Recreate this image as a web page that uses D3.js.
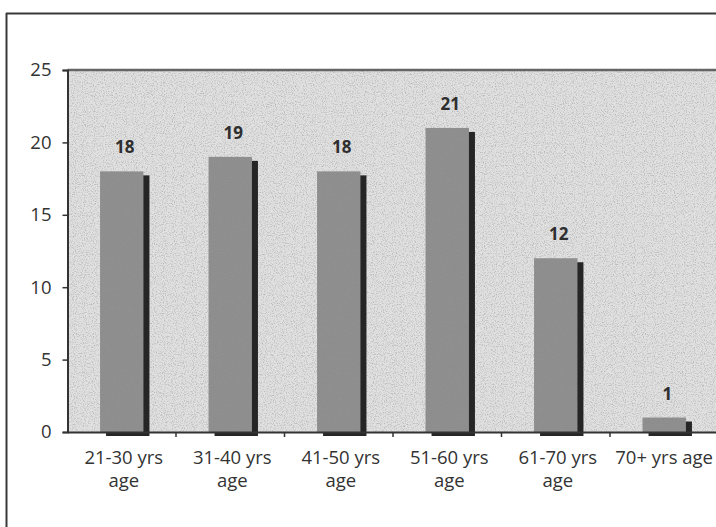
<!DOCTYPE html>
<html>
<head>
<meta charset="utf-8">
<script src="https://cdn.jsdelivr.net/npm/d3@7"></script>
<style>
  html, body { margin: 0; padding: 0; background: #fff; }
  svg { display: block; }
  text { font-family: "Open Sans", "Liberation Sans", sans-serif; }
</style>
</head>
<body>
<svg id="chart" width="716" height="527"></svg>
<script>
const categories = ["21-30 yrs age", "31-40 yrs age", "41-50 yrs age", "51-60 yrs age", "61-70 yrs age", "70+ yrs age"];
const labelLines = [["21-30 yrs", "age"], ["31-40 yrs", "age"], ["41-50 yrs", "age"], ["51-60 yrs", "age"], ["61-70 yrs", "age"], ["70+ yrs age"]];
const values = [18, 19, 18, 21, 12, 1];
const yTicks = [0, 5, 10, 15, 20, 25];

const W = 716, H = 527;
const plot = { left: 67.5, right: 718.5, top: 70, bottom: 432 };

const svg = d3.select("#chart");

const defs = svg.append("defs");
const f = defs.append("filter").attr("id", "grain").attr("x", 0).attr("y", 0).attr("width", 1).attr("height", 1);
f.append("feTurbulence").attr("type", "fractalNoise").attr("baseFrequency", 0.9).attr("numOctaves", 2).attr("seed", 3).attr("result", "n");
f.append("feColorMatrix").attr("in", "n").attr("type", "matrix")
  .attr("values", "0 0 0 0 0  0 0 0 0 0  0 0 0 0 0  0 0 0 -1.4 0.75").attr("result", "a");
f.append("feComposite").attr("in", "a").attr("in2", "SourceGraphic").attr("operator", "in");

svg.append("rect").attr("width", W).attr("height", H).attr("fill", "#fff");

// outer chart frame
svg.append("line").attr("x1", 6).attr("x2", W).attr("y1", 13.5).attr("y2", 13.5).attr("stroke", "#3a3a3a").attr("stroke-width", 2);
svg.append("line").attr("x1", 6.5).attr("x2", 6.5).attr("y1", 13).attr("y2", H).attr("stroke", "#3a3a3a").attr("stroke-width", 2);

const x = d3.scaleBand().domain(categories).range([plot.left, plot.right]).paddingInner(0.6).paddingOuter(0.3);
const xb = d3.scaleBand().domain(categories).range([plot.left, plot.right]).padding(0);
const y = d3.scaleLinear().domain([0, 25]).range([plot.bottom, plot.top]);

// plot area
svg.append("rect").attr("x", plot.left).attr("y", plot.top)
  .attr("width", plot.right - plot.left).attr("height", plot.bottom - plot.top)
  .attr("fill", "#e0e0e0");
svg.append("rect").attr("x", plot.left).attr("y", plot.top)
  .attr("width", plot.right - plot.left).attr("height", plot.bottom - plot.top)
  .attr("fill", "#ffffff").attr("filter", "url(#grain)").attr("opacity", 0.3);
svg.append("line").attr("x1", plot.left).attr("x2", plot.right).attr("y1", plot.top).attr("y2", plot.top)
  .attr("stroke", "#666").attr("stroke-width", 2.5);

// bars: shadow then face
const g = svg.append("g");
g.selectAll("rect.shadow").data(values).join("rect").attr("class", "shadow")
  .attr("x", (d, i) => x(categories[i]) + 6)
  .attr("y", d => y(d) + 4)
  .attr("width", x.bandwidth())
  .attr("height", d => y(0) - y(d))
  .attr("fill", "#262626");
g.selectAll("rect.bar").data(values).join("rect").attr("class", "bar")
  .attr("x", (d, i) => x(categories[i]))
  .attr("y", d => y(d))
  .attr("width", x.bandwidth())
  .attr("height", d => y(0) - y(d))
  .attr("fill", "#8f8f8f");
g.append("rect").attr("x", plot.left).attr("y", plot.top)
  .attr("width", plot.right - plot.left).attr("height", plot.bottom - plot.top)
  .attr("fill", "#000").attr("filter", "url(#grain)").attr("opacity", 0.05).attr("pointer-events", "none");

// data labels
svg.selectAll("text.val").data(values).join("text").attr("class", "val")
  .attr("x", (d, i) => x(categories[i]) + x.bandwidth() / 2 + 3)
  .attr("y", d => y(d) - 18)
  .attr("text-anchor", "middle")
  .attr("font-size", 17).attr("font-weight", "bold").attr("fill", "#2e2e2e")
  .text(d => d);

// y axis
const yAxis = d3.axisLeft(y).tickValues(yTicks).tickSize(5).tickPadding(11);
const ya = svg.append("g").attr("transform", `translate(${plot.left},0)`).call(yAxis);
ya.select(".domain").attr("stroke", "#333").attr("stroke-width", 2);
ya.selectAll(".tick line").attr("stroke", "#333").attr("stroke-width", 1.5);
ya.selectAll(".tick text").attr("font-size", 18.5).attr("fill", "#333").attr("font-family", "Open Sans, sans-serif");

// x axis
const xAxis = d3.axisBottom(xb).tickSize(0).tickFormat("");
const xa = svg.append("g").attr("transform", `translate(0,${plot.bottom})`).call(xAxis);
xa.select(".domain").attr("stroke", "#333").attr("stroke-width", 2);
xa.selectAll(".tick").remove();
xa.selectAll("line.sep").data(categories.slice(1)).join("line").attr("class", "sep")
  .attr("x1", d => xb(d)).attr("x2", d => xb(d)).attr("y1", 0).attr("y2", 5)
  .attr("stroke", "#333").attr("stroke-width", 1.5);

const lab = svg.append("g");
labelLines.forEach((lines, i) => {
  const cx = xb(categories[i]) + xb.bandwidth() / 2 + 2;
  const t = lab.append("text")
    .attr("x", cx)
    .attr("y", 464)
    .attr("text-anchor", "middle").attr("font-size", 18.5).attr("fill", "#333");
  lines.forEach((ln, j) => {
    t.append("tspan").attr("x", cx).attr("dy", j === 0 ? 0 : 23).text(ln);
  });
  // keep label inside the visible area
  const bb = t.node().getBBox();
  const over = bb.x + bb.width - (W - 3);
  if (over > 0) {
    t.attr("x", cx - over);
    t.selectAll("tspan").attr("x", cx - over);
  }
});
</script>
</body>
</html>
